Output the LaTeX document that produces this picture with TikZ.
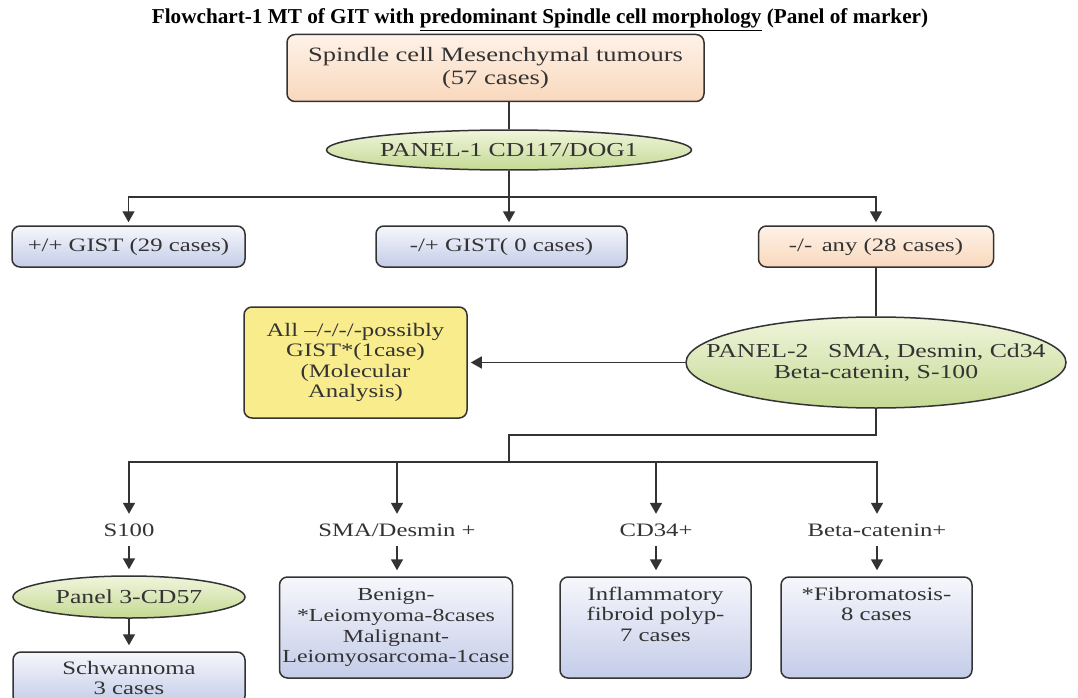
\documentclass[tikz,border=0pt]{standalone}
\usepackage{fontspec}
\setmainfont{Liberation Serif}
\newfontfamily\boxfont[FakeStretch=1.3]{Liberation Serif}
\usetikzlibrary{arrows.meta,shapes.geometric}
\definecolor{txtgray}{HTML}{333333}
\definecolor{linegray}{HTML}{333333}
\definecolor{bluetop}{HTML}{F6F7FC}
\definecolor{bluebot}{HTML}{C4CCE8}
\definecolor{ortop}{HTML}{FEF2E8}
\definecolor{orbot}{HTML}{F9D8BC}
\definecolor{grtop}{HTML}{F0F5DC}
\definecolor{grbot}{HTML}{C5D993}
\definecolor{yellowfill}{HTML}{F8EC8C}
\tikzset{
  tx/.style={font={\boxfont\fontsize{19}{20.5}\selectfont}, text=txtgray},
  bigtx/.style={font={\boxfont\fontsize{20.4}{22.5}\selectfont}},
  smalltx/.style={font={\boxfont\fontsize{18.4}{20.8}\selectfont}},
  ovtx/.style={font={\boxfont\fontsize{19.8}{21.5}\selectfont}},
  rbox/.style={tx, draw=linegray, line width=1.5pt, rounded corners=8pt, align=center, inner sep=2pt},
  bluebox/.style={rbox, top color=bluetop, bottom color=bluebot},
  orangebox/.style={rbox, top color=ortop, bottom color=orbot},
  yellowbox/.style={rbox, fill=yellowfill},
  oval/.style={ellipse, draw=linegray, line width=1.5pt, top color=grtop, bottom color=grbot, inner sep=0pt},
  ovaltext/.style={tx, ovtx, align=center, inner sep=0pt},
  lbl/.style={tx, align=center, inner sep=0pt, minimum height=32},
  conn/.style={draw=linegray, line width=1.6pt},
  arr/.style={conn, -{Triangle[length=11pt,width=12pt]}, shorten >=3pt},
  sarr/.style={conn, -{Triangle[length=11pt,width=12pt]}, shorten >=6pt}
}
\begin{document}
\begin{tikzpicture}[x=1pt,y=-1pt]
\useasboundingbox (0,0) rectangle (1078,698);
\clip (0,0) rectangle (1078,698);

% title
\node[font={\bfseries\fontsize{21.2}{24}\selectfont}, anchor=base, inner sep=0pt] (title) at (540,24)
  {Flowchart-1 MT of GIT with \underline{predominant Spindle cell morphology} (Panel of marker)};

% top
\node[orangebox, bigtx, minimum width=417, minimum height=67] (top) at (495.5,68)
  {Spindle cell Mesenchymal tumours\\(57 cases)};
\node[oval, minimum width=365, minimum height=40] (p1) at (509,150) {};
\node[ovaltext] (p1t) at (p1.center) {PANEL-1 CD117/DOG1};

% first row
\node[bluebox, minimum width=233, minimum height=41] (g1) at (128.5,246.5) {+/+ GIST (29 cases)};
\node[bluebox, minimum width=251, minimum height=41] (g2) at (501.5,246.5) {-/+ GIST( 0 cases)};
\node[orangebox, minimum width=235, minimum height=41] (g3) at (876,246.5) {-/-\enspace any (28 cases)};

% panel 2 and yellow
\node[oval, minimum width=380, minimum height=91] (p2) at (876,362.5) {};
\node[ovaltext] (p2t) at (p2.center) {PANEL-2\quad SMA, Desmin, Cd34\\Beta-catenin, S-100};
\node[yellowbox, minimum width=223, minimum height=111] (mol) at (355.5,362.5)
  {All –/-/-/-possibly\\GIST*(1case)\\(Molecular\\Analysis)};

% labels
\node[lbl] (l1) at (129,530) {S100};
\node[lbl] (l2) at (397,530) {SMA/Desmin +};
\node[lbl] (l3) at (656,530) {CD34+};
\node[lbl] (l4) at (877,530) {Beta-catenin+};

% bottom row
\node[oval, minimum width=232, minimum height=42] (p3) at (129,597) {};
\node[ovaltext] (p3t) at (p3.center) {Panel 3-CD57};
\node[bluebox, minimum width=232, minimum height=52] (sch) at (129,678) {Schwannoma\\3 cases};
\node[bluebox, smalltx, minimum width=233, minimum height=101, inner sep=1pt] (ben) at (396,627.5)
  {Benign-\\*Leiomyoma-8cases\\Malignant-\\Leiomyosarcoma-1case};
\node[bluebox, minimum width=191, minimum height=101] (inf) at (655.5,627.5)
  {Inflammatory\\fibroid polyp-\\7 cases\\\strut};
\node[bluebox, minimum width=191, minimum height=101] (fib) at (876.5,627.5)
  {*Fibromatosis-\\8 cases\\\strut\\\strut};

% connectors
\coordinate (j1) at (509,197);
\coordinate (k1) at (876,435);
\coordinate (k2) at (509,435);
\coordinate (k3) at (509,462);

\draw[conn] (top.south -| p1.north) -- (p1.north);
\draw[conn] (p1.south) -- (j1);
\draw[arr] (j1) -| (g1.north);
\draw[arr] (j1) -- (j1 |- g2.north);
\draw[arr] (j1) -| (g3.north);
\draw[conn] (g3.south) -- (p2.north);
\draw[arr] (p2.west) -- (mol.east);
\draw[conn] (p2.south) -- (k1) -- (k2) -- (k3);
\draw[arr, shorten >=0pt] (k3) -| (l1.north);
\draw[arr, shorten >=0pt] (k3) -| (l2.north);
\draw[arr, shorten >=0pt] (k3) -| (l3.north);
\draw[arr, shorten >=0pt] (k3) -| (l4.north);
\draw[sarr] (l1.south) -- (p3.north);
\draw[sarr] (l2.south) -- (l2.south |- ben.north);
\draw[sarr] (l3.south) -- (l3.south |- inf.north);
\draw[sarr] (l4.south) -- (l4.south |- fib.north);
\draw[sarr] (p3.south) -- (sch.north);
\end{tikzpicture}
\end{document}
